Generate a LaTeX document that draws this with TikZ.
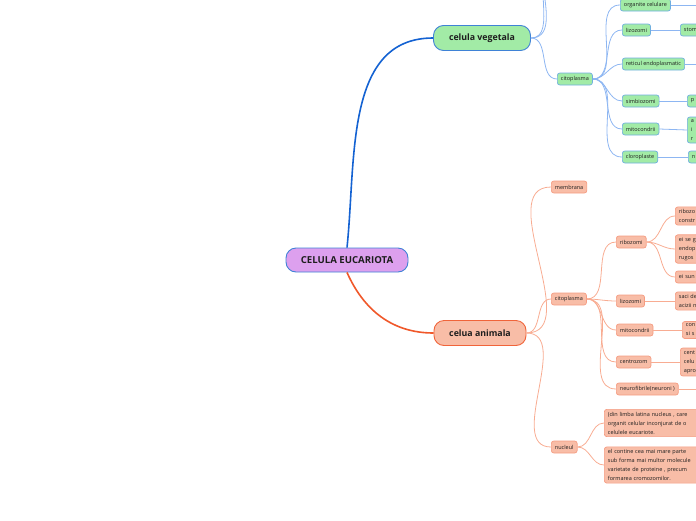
\documentclass[tikz,border=0pt]{standalone}
\usepackage{fontspec}
\setmainfont{Open Sans}
\usetikzlibrary{positioning}
\definecolor{rootfill}{HTML}{DDA0EE}
\definecolor{rootline}{HTML}{3F82D6}
\definecolor{vegfill}{HTML}{A2EBA6}
\definecolor{vegline}{HTML}{3F82D6}
\definecolor{vegleafline}{HTML}{6FAEE0}
\definecolor{vegwirecol}{HTML}{8DB6F2}
\definecolor{vegmaincol}{HTML}{1462D2}
\definecolor{anifill}{HTML}{F8BDA7}
\definecolor{aniline}{HTML}{F0643A}
\definecolor{anileafline}{HTML}{F59C82}
\definecolor{aniwirecol}{HTML}{F8AC92}
\definecolor{animaincol}{HTML}{F0582A}
\definecolor{inkdark}{HTML}{1E1E1E}

\tikzset{
  rootbox/.style={draw=rootline, fill=rootfill, line width=0.9pt, rounded corners=10pt,
    minimum width=122pt, minimum height=24pt, font=\fontsize{9.6}{10}\selectfont\bfseries, text=inkdark},
  branchbox/.style={line width=0.9pt, rounded corners=10pt, minimum height=25pt,
    font=\fontsize{8.8}{10}\selectfont\bfseries, text=inkdark},
  vegbranch/.style={branchbox, draw=vegline, fill=vegfill},
  anibranch/.style={branchbox, draw=aniline, fill=anifill},
  leaf/.style={anchor=west, line width=0.7pt, rounded corners=2.5pt, minimum height=12pt,
    inner xsep=3.6pt, inner ysep=2.5pt, font=\fontsize{5.5}{9}\selectfont, text=inkdark, align=left},
  vegleaf/.style={leaf, draw=vegleafline, fill=vegfill},
  anileaf/.style={leaf, draw=anileafline, fill=anifill},
  cutbox/.style={text width=90pt},
  vegwire/.style={draw=vegwirecol, line width=0.8pt},
  aniwire/.style={draw=aniwirecol, line width=0.8pt},
}

\begin{document}
\begin{tikzpicture}[x=1pt,y=-1pt]
  \useasboundingbox (0,0) rectangle (696,520);
  \clip (0,0) rectangle (696,520);

  % Root and the two main branches
  \node[rootbox] (root) at (347,260) {CELULA EUCARIOTA};
  \node[vegbranch, minimum width=97pt] (veg) at (482,38) {celula vegetala};
  \node[anibranch, minimum width=92pt] (ani) at (480,333) {celua animala};

  \draw[draw=vegmaincol, line width=1.6pt] (root.north) to[out=84,in=180] (veg.west);
  \draw[draw=animaincol, line width=1.6pt] (root.south) to[out=-66,in=180] (ani.west);

  % celula vegetala
  \coordinate (vtopa) at (556,-30);
  \coordinate (vtopb) at (556,-60);
  \node[vegleaf] (vcit) at (557,79) {citoplasma};
  \draw[vegwire] (veg.east) to[out=0,in=180] (vtopa);
  \draw[vegwire] (veg.east) to[out=0,in=180] (vtopb);
  \draw[vegwire] (veg.east) to[out=0,in=180] (vcit.west);

  \node[vegleaf] (vorg) at (620,5) {organite celulare};
  \node[vegleaf] (vliz) at (622,30) {lizozomi};
  \node[vegleaf] (vret) at (622,64) {reticul endoplasmatic};
  \node[vegleaf] (vsim) at (622,101) {simbiozomi};
  \node[vegleaf] (vmit) at (622,129) {mitocondrii};
  \node[vegleaf] (vclo) at (622,157) {cloroplaste};
  \foreach \c in {vorg,vliz,vret,vsim,vmit,vclo}
    \draw[vegwire] (vcit.east) to[out=0,in=180] (\c.west);

  \coordinate (vorgend) at (720,5);
  \coordinate (vretend) at (720,64);
  \node[vegleaf, cutbox] (vlizd) at (680,30) {stom};
  \node[vegleaf, cutbox] (vsimd) at (687,101) {p};
  \node[vegleaf, cutbox] (vmitd) at (687,130) {a\\i\\r};
  \node[vegleaf, cutbox] (vclod) at (688,157) {n};
  \draw[vegwire] (vorg.east) -- (vorgend);
  \draw[vegwire] (vret.east) -- (vretend);
  \draw[vegwire] (vliz.east) -- (vlizd.west);
  \draw[vegwire] (vsim.east) -- (vsimd.west);
  \draw[vegwire] (vmit.east) -- (vmitd.west);
  \draw[vegwire] (vclo.east) -- (vclod.west);

  % celua animala
  \node[anileaf] (amem) at (551,187) {membrana};
  \node[anileaf] (acit) at (551,299) {citoplasma};
  \node[anileaf] (anuc) at (551,447) {nucleul};
  \foreach \c in {amem,acit,anuc}
    \draw[aniwire] (ani.east) to[out=0,in=180] (\c.west);

  \node[anileaf] (arib) at (616,242) {ribozomi};
  \node[anileaf] (aliz) at (616,301) {lizozomi};
  \node[anileaf] (amit) at (616,330) {mitocondrii};
  \node[anileaf] (acen) at (616,362) {centrozom};
  \node[anileaf] (aneu) at (616,389) {neurofibrile(neuroni )};
  \foreach \c in {arib,aliz,amit,acen,aneu}
    \draw[aniwire] (acit.east) to[out=0,in=180] (\c.west);

  \node[anileaf, cutbox] (ariba) at (675,216) {ribozo\\constr};
  \node[anileaf, cutbox] (aribb) at (675,249) {ei se g\\endop\\rugos};
  \node[anileaf, cutbox] (aribc) at (675,277) {ei sun};
  \foreach \c in {ariba,aribb,aribc}
    \draw[aniwire] (arib.east) to[out=0,in=180] (\c.west);

  \node[anileaf, cutbox] (alizd) at (675,301) {saci de\\acizii n};
  \node[anileaf, cutbox] (amitd) at (682,330) {con\\si s};
  \node[anileaf, cutbox] (acend) at (680,362) {cent\\celu\\apro};
  \coordinate (aneuend) at (720,389);
  \draw[aniwire] (aliz.east) -- (alizd.west);
  \draw[aniwire] (amit.east) -- (amitd.west);
  \draw[aniwire] (acen.east) -- (acend.west);
  \draw[aniwire] (aneu.east) -- (aneuend);

  \node[anileaf, cutbox, text width=120pt] (anuca) at (604,423)
    {(din limba latina nucleus , care\\organit celular inconjurat de o\\celulele eucariote.};
  \node[anileaf, cutbox, text width=120pt] (anucb) at (604,465)
    {el contine cea mai mare parte\\sub forma mai multor molecule\\varietate de proteine , precum\\formarea cromozomilor.};
  \draw[aniwire] (anuc.east) to[out=0,in=180] (anuca.west);
  \draw[aniwire] (anuc.east) to[out=0,in=180] (anucb.west);
\end{tikzpicture}
\end{document}
